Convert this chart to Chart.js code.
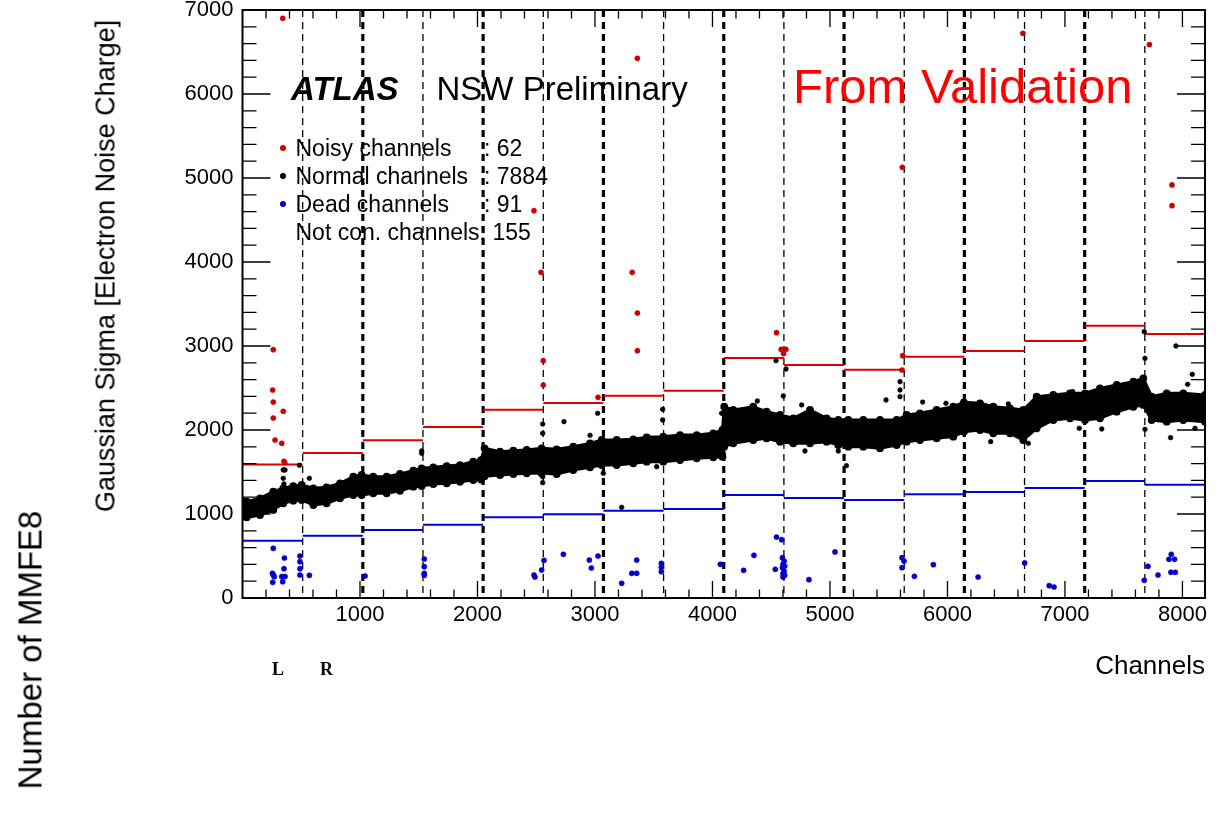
<!DOCTYPE html>
<html>
<head>
<meta charset="utf-8">
<script src="https://cdn.jsdelivr.net/npm/chart.js@4.4.1/dist/chart.umd.min.js"></script>
<style>
  body { margin: 0; background: #fff; }
  #wrap { position: relative; width: 1230px; height: 821px; font-family: "Liberation Sans", Arial, sans-serif; }
  .txt { position: absolute; white-space: nowrap; line-height: 1; color: #000; }
  .dot { position: absolute; width: 6px; height: 6px; border-radius: 50%; }
</style>
</head>
<body>
<div id="wrap">
  <canvas id="noisechart" width="1230" height="821"></canvas>

  <div class="txt" style="left:291px; top:71.6px; font-size:33px; font-weight:bold; font-style:italic;">ATLAS</div>
  <div class="txt" style="left:436.5px; top:71.6px; font-size:33px;">NSW Preliminary</div>
  <div class="txt" style="left:793px; top:62px; font-size:49px; color:#ff0000;">From Validation</div>

  <span class="dot" style="left:280px; top:145px; background:#cc0000;"></span>
  <span class="dot" style="left:280px; top:173px; background:#000;"></span>
  <span class="dot" style="left:280px; top:201px; background:#0000cc;"></span>
  <div class="txt" style="left:295.5px; top:136.5px; font-size:23px;">Noisy channels</div>
  <div class="txt" style="left:484px; top:136.5px; font-size:23px;">: 62</div>
  <div class="txt" style="left:295.5px; top:164.5px; font-size:23px;">Normal channels</div>
  <div class="txt" style="left:484px; top:164.5px; font-size:23px;">: 7884</div>
  <div class="txt" style="left:295.5px; top:192.5px; font-size:23px;">Dead channels</div>
  <div class="txt" style="left:484px; top:192.5px; font-size:23px;">: 91</div>
  <div class="txt" style="left:295.5px; top:220.5px; font-size:23px;">Not con. channels: 155</div>

  <div class="txt" style="left:106px; top:266px; font-size:27px; transform:translate(-50%,-50%) rotate(-90deg);">Gaussian Sigma [Electron Noise Charge]</div>
  <div class="txt" style="left:30px; top:650px; font-size:33px; transform:translate(-50%,-50%) rotate(-90deg);">Number of MMFE8</div>
  <div class="txt" style="right:25px; top:651.5px; font-size:26px;">Channels</div>
  <div class="txt" style="left:272px; top:660px; font-size:18px; font-weight:bold; font-family:'Liberation Serif', serif;">L</div>
  <div class="txt" style="left:320px; top:660px; font-size:18px; font-weight:bold; font-family:'Liberation Serif', serif;">R</div>
</div>

<script>
// tick labels
const xTicks = [1000, 2000, 3000, 4000, 5000, 6000, 7000, 8000];
const yTicks = [0, 1000, 2000, 3000, 4000, 5000, 6000, 7000];

// VMM boundaries (every 512 channels) and per-VMM thresholds
const vmmEdges = [0, 512, 1024, 1536, 2048, 2560, 3072, 3584, 4096, 4608, 5120, 5632, 6144, 6656, 7168, 7680, 8192];
const noisyLimit = [1590, 1726, 1877, 2036, 2242, 2321, 2408, 2468, 2857, 2774, 2718, 2873, 2940, 3060, 3242, 3143];
const deadLimit = [682, 742, 810, 873, 960, 996, 1040, 1060, 1226, 1190, 1167, 1234, 1262, 1310, 1393, 1349];

// normal channels: upper / lower edge of the dense band
const bandX = [0, 36, 149, 262, 347, 432, 504, 603, 716, 830, 943, 1014, 1113, 1227, 1340, 1454, 1525, 1624, 1738, 1851,
    1964, 2030, 2060, 2192, 2305, 2419, 2546, 2674, 2815, 2958, 3057, 3185, 3326, 3440, 3581, 3724, 3866, 4007, 4085, 4100,
    4177, 4347, 4461, 4575, 4688, 4830, 4972, 5071, 5156, 5284, 5426, 5568, 5653, 5766, 5908, 6050, 6140, 6277, 6390, 6532,
    6645, 6759, 6901, 7043, 7171, 7298, 7440, 7582, 7667, 7738, 7866, 8007, 8192];
const bandHigh = [1150, 1147, 1187, 1266, 1306, 1333, 1345, 1306, 1318, 1365, 1444, 1464, 1444, 1444, 1476, 1516, 1544, 1556, 1571, 1583,
    1623, 1640, 1782, 1742, 1754, 1762, 1782, 1770, 1801, 1841, 1881, 1881, 1889, 1913, 1921, 1940, 1940, 1960, 2000, 2277,
    2238, 2277, 2218, 2179, 2139, 2238, 2139, 2119, 2119, 2119, 2119, 2119, 2179, 2199, 2238, 2277, 2330, 2318, 2277, 2258,
    2238, 2397, 2417, 2437, 2437, 2496, 2536, 2575, 2615, 2397, 2437, 2437, 2417];
const bandLow = [970, 960, 988, 1048, 1127, 1159, 1167, 1107, 1127, 1187, 1226, 1226, 1246, 1246, 1277, 1325, 1333, 1357, 1365, 1385,
    1405, 1410, 1450, 1464, 1476, 1484, 1484, 1476, 1524, 1556, 1583, 1583, 1603, 1623, 1623, 1643, 1663, 1675, 1682, 1801,
    1841, 1881, 1901, 1861, 1841, 1841, 1861, 1821, 1801, 1801, 1782, 1821, 1861, 1881, 1901, 1921, 1980, 2000, 1960, 1960,
    1881, 2020, 2119, 2139, 2119, 2139, 2218, 2277, 2298, 2119, 2099, 2119, 2099];

// normal channels lying outside the band
const normalX = [347, 362, 347, 353, 484, 569, 1525, 1525, 2555, 2555, 2555, 2555, 2736, 2958, 3023, 3071, 3227, 3576, 3576, 3525,
    4078, 4092, 4541, 4626, 4603, 4382, 4759, 4787, 5071, 5140, 5477, 5596, 5596, 5596, 5789, 5987, 6368, 6518, 6688, 7066,
    7122, 7313, 7675, 7681, 7681, 7899, 7945, 8044, 8084, 8107];
const normalY = [1524, 1524, 1425, 1357, 1580, 1425, 1722, 1750, 2071, 1960, 1444, 1373, 2099, 1937, 2199, 1484, 1079, 2246, 2119, 1563,
    2199, 1722, 2825, 2726, 2405, 2345, 2298, 1750, 1750, 1575, 2357, 2575, 2476, 2397, 2333, 2318, 1861, 2310, 1841, 2456,
    2020, 2012, 3170, 2853, 2008, 1909, 3000, 2544, 2663, 2020];

// noisy channels
const noisyX = [342, 2481, 2541, 3361, 6642, 7719, 5616, 7911, 7911, 3317, 262, 257, 262, 347, 262, 277, 334, 353, 360,
    2560, 2560, 3026, 3361, 3361, 4545, 4585, 4625, 4605, 5619, 5613];
const noisyY = [6901, 4611, 3877, 6425, 6722, 6588, 5127, 4917, 4671, 3877, 2956, 2476, 2333, 2222, 2143, 1881, 1841, 1627, 1610,
    2825, 2536, 2389, 3393, 2944, 3159, 2960, 2960, 2910, 2885, 2714];

// dead channels
const deadX = [262, 255, 262, 270, 257, 334, 362, 342, 353, 357, 489, 489, 489, 489, 569, 1043, 1547, 1547, 1547, 1547,
    2481, 2489, 2546, 2566, 2731, 2952, 2969, 3026, 3227, 3313, 3355, 3355, 3565, 3565, 3565, 4067, 4265, 4353, 4545, 4589,
    4535, 4595, 4610, 4600, 4615, 4595, 4610, 4600, 4615, 4600, 4821, 5043, 5613, 5630, 5613, 5719, 5880, 6261, 6657, 6866,
    6907, 7675, 7707, 7792, 7905, 7885, 7933, 7902, 7939];
const deadY = [591, 294, 274, 254, 187, 256, 256, 194, 349, 476, 500, 432, 349, 274, 270, 262, 464, 373, 294, 270,
    274, 250, 333, 448, 520, 452, 357, 500, 175, 294, 294, 452, 413, 365, 313, 401, 329, 508, 726, 694,
    341, 480, 440, 400, 380, 360, 320, 290, 270, 250, 218, 548, 480, 440, 361, 258, 397, 250, 417, 147,
    131, 210, 377, 274, 520, 461, 461, 306, 306];

function toPoints(xs, ys) {
    return xs.map((x, i) => ({ x: x, y: ys[i] }));
}

// one horizontal piece per VMM, broken by null points
function stepPieces(limits) {
    const pts = [];
    limits.forEach((v, i) => {
        pts.push({ x: vmmEdges[i], y: v }, { x: vmmEdges[i + 1], y: v }, { x: vmmEdges[i + 1], y: null });
    });
    return pts;
}

// vertical dashed separators, thick at every second VMM
function separators(thick) {
    const pts = [];
    vmmEdges.slice(1, -1).forEach((e, i) => {
        if ((i % 2 === 1) === thick) {
            pts.push({ x: e, y: 7000 }, { x: e, y: 0 }, { x: e, y: null });
        }
    });
    return pts;
}

// ROOT style frame with inward ticks
const rootFrame = {
    id: 'rootFrame',
    afterDraw(chart) {
        const { ctx, chartArea: a, scales: { x, y } } = chart;
        ctx.save();
        ctx.strokeStyle = '#000';
        ctx.lineWidth = 2;
        ctx.strokeRect(a.left, a.top, a.right - a.left, a.bottom - a.top);
        ctx.lineWidth = 1.3;
        ctx.beginPath();
        for (let v = 200; v < 8192; v += 200) {
            const px = x.getPixelForValue(v);
            const len = v % 1000 === 0 ? 17 : 8.5;
            ctx.moveTo(px, a.bottom); ctx.lineTo(px, a.bottom - len);
            ctx.moveTo(px, a.top); ctx.lineTo(px, a.top + len);
        }
        for (let v = 200; v < 7000; v += 200) {
            const py = y.getPixelForValue(v);
            const len = v % 1000 === 0 ? 28 : 14;
            ctx.moveTo(a.left, py); ctx.lineTo(a.left + len, py);
            ctx.moveTo(a.right, py); ctx.lineTo(a.right - len, py);
        }
        ctx.stroke();
        ctx.restore();
    }
};

const ctx1 = document.getElementById('noisechart').getContext('2d');
const tickFont = { family: 'Liberation Sans', size: 22, lineHeight: 0.8 };
const plainLabel = value => String(value);

const noisechart = new Chart(ctx1, {
    type: 'scatter',
    data: {
        datasets: [
            { label: 'Noisy channels', data: toPoints(noisyX, noisyY), backgroundColor: '#cc0000', borderColor: '#cc0000', pointRadius: 2.6, borderWidth: 0.5 },
            { label: 'Dead channels', data: toPoints(deadX, deadY), backgroundColor: '#0000cc', borderColor: '#0000cc', pointRadius: 2.6, borderWidth: 0.5 },
            { label: 'Normal outliers', data: toPoints(normalX, normalY), backgroundColor: '#000', borderColor: '#000', pointRadius: 2.4, borderWidth: 0.5 },
            { label: 'Noisy limit', data: stepPieces(noisyLimit), showLine: true, borderColor: '#e00000', borderWidth: 2, pointRadius: 0 },
            { label: 'Dead limit', data: stepPieces(deadLimit), showLine: true, borderColor: '#0000e0', borderWidth: 2, pointRadius: 0 },
            { label: 'Band high', data: toPoints(bandX, bandHigh), showLine: true, borderColor: '#000', borderWidth: 3, backgroundColor: '#000', pointRadius: 2.4, fill: '+1' },
            { label: 'Band low', data: toPoints(bandX, bandLow), showLine: true, borderColor: '#000', borderWidth: 3, backgroundColor: '#000', pointRadius: 2.4 },
            { label: 'VMM', data: separators(false), showLine: true, borderColor: '#000', borderWidth: 1.3, borderDash: [7, 5], pointRadius: 0 },
            { label: 'MMFE8', data: separators(true), showLine: true, borderColor: '#000', borderWidth: 3.2, borderDash: [7, 5], pointRadius: 0 }
        ]
    },
    options: {
        responsive: false,
        animation: false,
        events: [],
        devicePixelRatio: 1,
        layout: { padding: { left: 182.5, right: 25, top: 10, bottom: 183 } },
        scales: {
            x: {
                type: 'linear', min: 0, max: 8192,
                grid: { display: false, drawTicks: false },
                border: { display: false },
                ticks: { font: tickFont, color: '#000', padding: 8, maxRotation: 0, callback: plainLabel },
                afterBuildTicks: s => { s.ticks = xTicks.map(v => ({ value: v })); },
                afterFit: s => { s.height = 40; s.paddingLeft = 0; s.paddingRight = 0; }
            },
            y: {
                type: 'linear', min: 0, max: 7000,
                grid: { display: false, drawTicks: false },
                border: { display: false },
                ticks: { font: tickFont, color: '#000', padding: 9, callback: plainLabel },
                afterBuildTicks: s => { s.ticks = yTicks.map(v => ({ value: v })); },
                afterFit: s => { s.width = 60; s.paddingTop = 0; s.paddingBottom = 0; }
            }
        },
        plugins: {
            legend: { display: false },
            tooltip: { enabled: false }
        }
    },
    plugins: [rootFrame]
});
</script>
</body>
</html>
